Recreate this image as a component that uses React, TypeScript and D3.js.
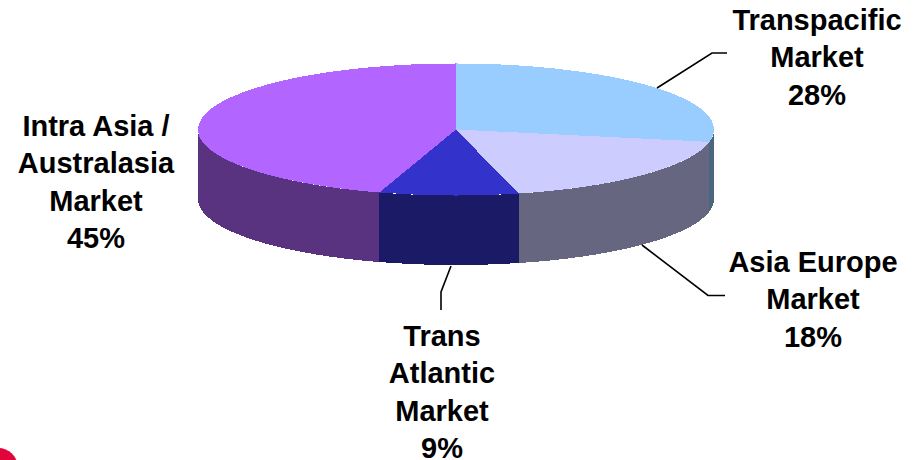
import React from "react";
import * as d3 from "d3";

const width = 923;
const height = 460;

// values, the labels show them rounded
const markets = ["Transpacific", "Asia Europe", "Trans Atlantic", "Intra Asia / Australasia"];
const shares = [28.0, 18.1, 8.7, 45.2];
const labelLines = [
  ["Transpacific", "Market"],
  ["Asia Europe", "Market"],
  ["Trans", "Atlantic", "Market"],
  ["Intra Asia /", "Australasia", "Market"],
];
const topColors = ["#99ccff", "#ccccff", "#3333cc", "#b266ff"];
const wallColors = ["#4c667f", "#666680", "#1a1a66", "#59337f"];

const cx = 456;
const cy = 129.5;
const rx = 258;
const ry = 66;
const depth = 69.5;

const labelPos = [
  { x: 817, y: 30 },
  { x: 813, y: 272 },
  { x: 442, y: 346 },
  { x: 96, y: 136 },
];
const leaders = [
  [[657, 88], [712, 53], [727, 53]],
  [[642, 245], [708, 295.5], [725, 295.5]],
  [[451, 266], [441, 292], [441, 310]],
];
const lineHeight = 37.4;

const pie = d3.pie<number>().sort(null).value((d) => d);
const arc = d3.arc<d3.PieArcDatum<number>>().innerRadius(0).outerRadius(rx);
const pct = d3.format(".0%");
const total = d3.sum(shares);
const leaderLine = d3.line();

// outer wall of the pie, only the part facing the viewer
const wall = d3
  .area<number>()
  .x((a) => cx + rx * Math.sin(a))
  .y0((a) => cy - ry * Math.cos(a))
  .y1((a) => cy - ry * Math.cos(a) + depth);

const wallPath = (start: number, end: number) => {
  const a0 = Math.max(start, Math.PI / 2);
  const a1 = Math.min(end, (3 * Math.PI) / 2);
  if (a1 <= a0) return null;
  const steps = d3.range(a0, a1, 0.01).concat(a1);
  return wall(steps);
};

export default function App() {
  const slices = pie(shares);
  return (
    <svg
      width={width}
      height={height}
      style={{ position: "absolute", left: 0, top: 0, display: "block", background: "#fff" }}
      fontFamily="Liberation Sans, Arial, sans-serif"
    >
      {slices.map((s, i) => {
        const d = wallPath(s.startAngle, s.endAngle);
        return d ? <path key={markets[i]} d={d} fill={wallColors[i]} shapeRendering="crispEdges" /> : null;
      })}
      <g transform={`translate(${cx},${cy}) scale(1,${ry / rx})`} shapeRendering="crispEdges">
        {slices.map((s, i) => (
          <path key={markets[i]} d={arc(s) as string} fill={topColors[i]} />
        ))}
      </g>
      {leaders.map((pts, i) => (
        <path
          key={i}
          d={leaderLine(pts as [number, number][]) as string}
          fill="none"
          stroke="#000"
          strokeWidth={1.6}
        />
      ))}
      {labelLines.map((lines, i) => (
        <text
          key={markets[i]}
          textAnchor="middle"
          fontSize={29}
          fontWeight="bold"
          fill="#000"
        >
          {lines.concat(pct(shares[i] / total)).map((t, j) => (
            <tspan key={j} x={labelPos[i].x} y={labelPos[i].y + j * lineHeight}>
              {t}
            </tspan>
          ))}
        </text>
      ))}
      {/* logo corner cut off at the bottom left of the slide */}
      <circle cx={-2} cy={468} r={20} fill="#e0063c" />
    </svg>
  );
}
